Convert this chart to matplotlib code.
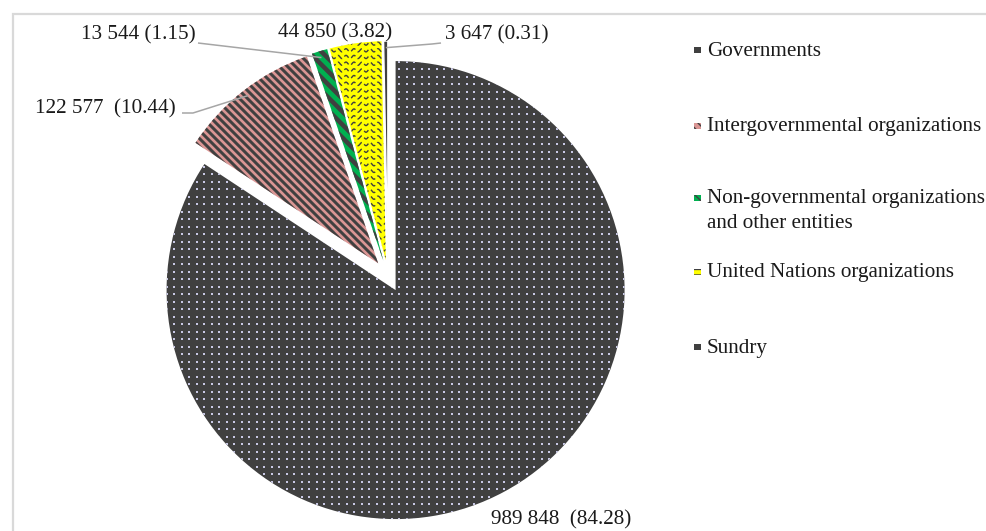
import numpy as np
import matplotlib
matplotlib.use("Agg")
import matplotlib.pyplot as plt
from matplotlib.collections import LineCollection
from matplotlib.patches import Rectangle

# Contributions by source (amount and share in per cent)
categories = [
    "Governments",
    "Intergovernmental organizations",
    "Non-governmental organizations\nand other entities",
    "United Nations organizations",
    "Sundry",
]
amounts = [989848, 122577, 13544, 44850, 3647]
shares = [84.28, 10.44, 1.15, 3.82, 0.31]
value_labels = [
    "989 848  (84.28)",
    "122 577  (10.44)",
    "13 544 (1.15)",
    "44 850 (3.82)",
    "3 647 (0.31)",
]

plt.rcParams['font.family'] = ['Liberation Serif', 'DejaVu Serif']

W, H = 987, 531
fig = plt.figure(figsize=(W / 100, H / 100), dpi=100)
ax = fig.add_axes([0, 0, 1, 1])


def px(x, y):
    """Pixel position (origin top-left) to data coordinates."""
    return x, H - y


DARK = '#404040'
face_colors = [DARK, '#da9694', '#00b050', '#ffff00', DARK]

R = 229
wedges, _ = ax.pie(amounts, colors=face_colors, startangle=90, counterclock=False,
                   radius=R, center=px(388, 276), explode=[16] * len(amounts),
                   wedgeprops=dict(linewidth=0))
for w in wedges[1:]:
    w.set_radius(R * 0.956)
wedges[4].set_edgecolor('white')
wedges[4].set_linewidth(1.0)


# ---- fill patterns, clipped to each slice ----
def dots(w, step, color, size):
    cx, cy = w.center
    r = w.r
    g = np.arange(-r, r, step)
    xx, yy = np.meshgrid(cx + g, cy + g)
    sc = ax.scatter(xx.ravel(), yy.ravel(), s=size, marker='s', c=color,
                    linewidths=0, zorder=3)
    sc.set_clip_path(w)


def stripes(w, spacing, width_px, color):
    cx, cy = w.center
    r = w.r
    segs = [[(cx - r, cy + r + c), (cx + r, cy - r + c)]
            for c in np.arange(-2 * r, 2 * r, spacing)]
    lc = LineCollection(segs, colors=color, linewidths=width_px * 0.72, zorder=3)
    ax.add_collection(lc)
    lc.set_clip_path(w)


def waves(w, row_step, period, amp, width_px, color):
    cx, cy = w.center
    r = w.r
    xs = np.arange(cx - r, cx + r, 0.4)
    segs = [np.column_stack([xs, y0 + amp * np.sin(2 * np.pi * xs / period)])
            for y0 in np.arange(cy - r, cy + r, row_step)]
    lc = LineCollection(segs, colors=color, linewidths=width_px * 0.72, zorder=3,
                        linestyles=[(0, (4, 2.2))])
    ax.add_collection(lc)
    lc.set_clip_path(w)


dots(wedges[0], 7.5, '#c8c8e4', 2.4)
stripes(wedges[1], 8, 3.0, DARK)
stripes(wedges[2], 13, 4.5, DARK)
waves(wedges[3], 6.7, 8, 1.6, 1.4, DARK)

ax.set_xlim(0, W)
ax.set_ylim(0, H)
ax.set_aspect('equal')
ax.axis('off')

# ---- value labels ----
TXT = '#1a1a1a'
FS = 15.2
LEAD = '#a6a6a6'


def arc_point(w, frac=0.99):
    th = np.deg2rad((w.theta1 + w.theta2) / 2)
    return (w.center[0] + frac * w.r * np.cos(th),
            w.center[1] + frac * w.r * np.sin(th))


label_xy = [px(561, 520), px(105, 109), px(138, 35), px(335, 33), px(497, 35)]
for (x, y), txt in zip(label_xy, value_labels):
    ax.text(x, y, txt, ha='center', va='center', fontsize=FS, color=TXT)

# leader lines
leaders = {
    1: [px(182, 113), px(193, 113)],
    2: [px(198, 43)],
    4: [px(441, 43), px(432, 44)],
}
for i, pts in leaders.items():
    pts = pts + [arc_point(wedges[i], 0.97)]
    xs, ys = zip(*pts)
    ax.plot(xs, ys, color=LEAD, lw=1.1, solid_capstyle='butt', zorder=4)

# ---- legend ----
legend_y = [51, 127, 199, 273, 348]
marker_style = [
    dict(facecolor=DARK, hatch=None),
    dict(facecolor='#da9694', hatch='\\\\\\\\'),
    dict(facecolor='#00b050', hatch='\\\\\\'),
    dict(facecolor='#ffff00', hatch='---'),
    dict(facecolor=DARK, hatch=None),
]
for name, yy, st in zip(categories, legend_y, marker_style):
    mx, my = px(694, yy + 2)
    ax.add_patch(Rectangle((mx, my), 6.5, 6.5, facecolor=st['facecolor'],
                           hatch=st['hatch'], edgecolor=DARK, linewidth=0, zorder=4))
    for k, line in enumerate(name.split('\n')):
        x, y = px(707, yy + 25 * k)
        ax.text(x, y, line, ha='left', va='center', fontsize=FS, color=TXT)

# ---- chart-area frame (left and top edges visible) ----
fx0, fy0 = px(12.5, 13.5)
ax.plot([fx0, fx0, W + 5], [-5, fy0, fy0], color='#d9d9d9', lw=1.6,
        solid_joinstyle='miter', clip_on=False, zorder=1)

fig.savefig('out.png', dpi=100)
